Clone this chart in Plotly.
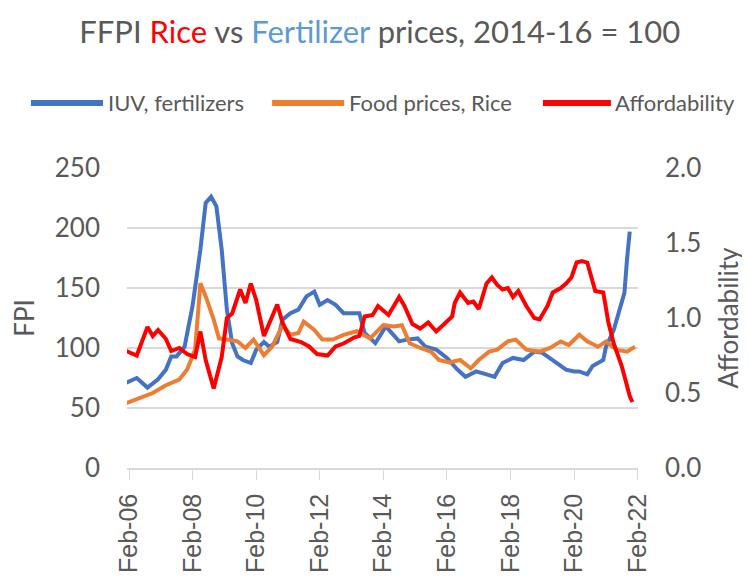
import plotly.graph_objects as go

# ---- Data ----
fert_dates = ["2006-01", "2006-05", "2006-09", "2007-01", "2007-04", "2007-06", "2007-08", "2007-11",
              "2008-02", "2008-05", "2008-07", "2008-09", "2008-11", "2009-01", "2009-03", "2009-05",
              "2009-07", "2009-09", "2009-12", "2010-02", "2010-05", "2010-07", "2010-10", "2010-12",
              "2011-03", "2011-06", "2011-09", "2011-12", "2012-02", "2012-05", "2012-08", "2012-11",
              "2013-04", "2013-05", "2013-07", "2013-11", "2014-03", "2014-08", "2014-11", "2015-03",
              "2015-06", "2015-10", "2016-02", "2016-06", "2016-09", "2017-01", "2017-05", "2017-08",
              "2017-11", "2018-03", "2018-07", "2018-11", "2019-02", "2019-06", "2019-11", "2020-02",
              "2020-04", "2020-07", "2020-09", "2021-01", "2021-02", "2021-05", "2021-07", "2021-09",
              "2021-10", "2021-11"]
fert_values = [71, 75, 67, 74, 82, 93, 93, 101,
               135, 182, 221, 226, 218, 182, 132, 104,
               93, 90, 87.5, 98.6, 105, 101, 105, 123.6,
               129, 132, 143, 147, 136, 140, 136, 129,
               129, 129, 112.5, 104, 118, 105.5, 107, 108,
               101, 98.6, 91.7, 82, 76, 80.5, 78, 76,
               87.5, 91.7, 90, 97, 96, 90, 82, 80.5,
               80.5, 78, 85, 90, 101, 115, 129, 146,
               174, 197]

rice_dates = ["2006-01", "2006-06", "2006-11", "2007-04", "2007-09", "2007-12", "2008-03", "2008-05",
              "2008-07", "2008-10", "2008-12", "2009-03", "2009-07", "2009-10", "2010-01", "2010-05",
              "2010-08", "2010-12", "2011-03", "2011-06", "2011-08", "2011-12", "2012-03", "2012-07",
              "2012-11", "2013-04", "2013-09", "2014-02", "2014-06", "2014-09", "2014-12", "2015-04",
              "2015-08", "2015-11", "2016-03", "2016-07", "2016-11", "2017-02", "2017-06", "2017-09",
              "2018-01", "2018-04", "2018-08", "2019-01", "2019-05", "2019-09", "2019-12", "2020-04",
              "2020-07", "2020-11", "2021-02", "2021-06", "2021-10", "2022-01"]
rice_values = [54, 58, 62.5, 69, 73.6, 82, 98.6, 154,
               143, 123.6, 108, 107, 105.5, 100, 107, 94,
               101, 119, 111, 112.5, 122, 115, 107, 107,
               111, 114, 108, 119, 118, 119, 104, 100,
               97, 90, 88, 90, 83, 90, 97, 98.6,
               105.5, 107, 98.6, 97, 100, 105.5, 102.5, 111,
               105.5, 101, 105.5, 98.6, 97, 101]

afford_dates = ["2006-01", "2006-05", "2006-09", "2006-11", "2007-01", "2007-04", "2007-06", "2007-09",
                "2007-12", "2008-03", "2008-05", "2008-07", "2008-10", "2009-01", "2009-03", "2009-05",
                "2009-08", "2009-10", "2009-12", "2010-02", "2010-05", "2010-07", "2010-10", "2010-12",
                "2011-03", "2011-07", "2011-10", "2012-01", "2012-05", "2012-08", "2012-11", "2013-03",
                "2013-05", "2013-07", "2013-10", "2013-12", "2014-04", "2014-08", "2014-10", "2015-01",
                "2015-04", "2015-07", "2015-10", "2016-01", "2016-04", "2016-05", "2016-07", "2016-10",
                "2016-12", "2017-02", "2017-05", "2017-07", "2017-09", "2017-11", "2018-01", "2018-03",
                "2018-05", "2018-08", "2018-11", "2019-01", "2019-04", "2019-06", "2019-09", "2019-11",
                "2020-01", "2020-03", "2020-05", "2020-07", "2020-10", "2021-01", "2021-03", "2021-05",
                "2021-08", "2021-11", "2021-12"]
afford_values = [0.78, 0.75, 0.94, 0.88, 0.92, 0.86, 0.78, 0.80,
                 0.76, 0.74, 0.91, 0.72, 0.53, 0.74, 1.00, 1.03,
                 1.19, 1.10, 1.23, 1.12, 0.88, 0.97, 1.09, 0.97,
                 0.86, 0.84, 0.81, 0.76, 0.75, 0.81, 0.83, 0.87,
                 0.88, 1.01, 1.02, 1.08, 1.02, 1.14, 1.08, 0.96,
                 0.93, 0.97, 0.91, 0.96, 1.01, 1.10, 1.17, 1.10,
                 1.11, 1.06, 1.23, 1.27, 1.22, 1.19, 1.20, 1.14,
                 1.18, 1.08, 1.00, 0.99, 1.08, 1.17, 1.20, 1.23,
                 1.27, 1.37, 1.38, 1.37, 1.18, 1.17, 0.97, 0.83,
                 0.68, 0.48, 0.44]

series_names = ["IUV, fertilizers", "Food prices, Rice", "Affordability"]
series_colors = ["#4472C4", "#ED7D31", "#FF0000"]

GREY = "#595959"
GRID = "#D9D9D9"

fig = go.Figure()
fig.add_trace(go.Scatter(x=fert_dates, y=fert_values, mode="lines", name=series_names[0],
                         line=dict(color=series_colors[0], width=4), showlegend=False))
fig.add_trace(go.Scatter(x=rice_dates, y=rice_values, mode="lines", name=series_names[1],
                         line=dict(color=series_colors[1], width=4), showlegend=False))
fig.add_trace(go.Scatter(x=afford_dates, y=afford_values, mode="lines", name=series_names[2],
                         line=dict(color=series_colors[2], width=4), yaxis="y2", showlegend=False))

# Manual legend (long line samples like the reference)
legend_pos = [(-0.188, -0.047), (0.284, 0.425), (0.814, 0.947)]
legend_y = 1.217
for (x0, x1), name, col in zip(legend_pos, series_names, series_colors):
    fig.add_shape(type="line", xref="paper", yref="paper", x0=x0, x1=x1, y0=legend_y, y1=legend_y,
                  line=dict(color=col, width=6))
    fig.add_annotation(xref="paper", yref="paper", x=x1 + 0.005, y=legend_y, text=name,
                       showarrow=False, xanchor="left", yanchor="middle",
                       font=dict(family="Lato", size=22, color=GREY))

# The page body has an 8px default margin, so the figure is made 8px smaller
# and the margins are reduced accordingly.
fig.update_layout(
    width=742, height=569,
    margin=dict(l=119, r=112, t=160, b=109, autoexpand=False),
    paper_bgcolor="white", plot_bgcolor="white",
    title=dict(
        text="FFPI <span style='color:#FF0000'>Rice</span> vs "
             "<span style='color:#5B9BD5'>Fertilizer</span> prices, 2014-16 = 100",
        x=0.501, xref="container", xanchor="center",
        y=0.957, yref="container", yanchor="middle",
        font=dict(family="Lato", size=31, color=GREY)),
    xaxis=dict(
        type="date", range=["2006-01-09", "2022-02-04"], automargin=False,
        tick0="2006-02-01", dtick="M24", tickformat="%b-%y", tickangle=-90,
        ticks="outside", ticklen=10, tickcolor=GRID, tickwidth=1,
        showline=True, linecolor=GRID, linewidth=1.5,
        showgrid=False, zeroline=False,
        tickfont=dict(family="Liberation Sans", size=25, color=GREY),
        ticklabelstandoff=4,
    ),
    yaxis=dict(
        range=[0, 250], dtick=50, showgrid=True, gridcolor=GRID, gridwidth=1.5, automargin=False,
        zeroline=False, showline=False, ticks="",
        tickfont=dict(family="Lato", size=26, color=GREY),
        ticklabelstandoff=26,
        title=dict(text="FPI", font=dict(family="Lato", size=26, color=GREY), standoff=12),
    ),
    yaxis2=dict(
        range=[0, 2.0], dtick=0.5, tickformat=".1f", overlaying="y", side="right", automargin=False,
        showgrid=False, zeroline=False, showline=False, ticks="",
        tickfont=dict(family="Lato", size=26, color=GREY),
        ticklabelstandoff=26,
        title=dict(text="Affordability", font=dict(family="Lato", size=26, color=GREY), standoff=19),
    ),
)

fig.write_html("out.html")
